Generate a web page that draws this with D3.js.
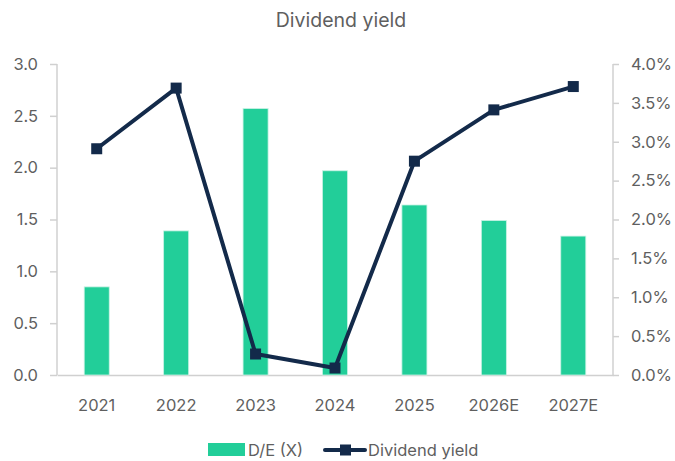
<!DOCTYPE html>
<html>
<head>
<meta charset="utf-8">
<script src="https://cdn.jsdelivr.net/npm/d3@7"></script>
<style>
  body { margin: 0; background: #fff; }
  text { font-family: Inter, "Open Sans", sans-serif; fill: #5f5f5f; }
</style>
</head>
<body>
<script>
// chart data
var years = ["2021", "2022", "2023", "2024", "2025", "2026E", "2027E"];
var deValues = [0.85, 1.39, 2.57, 1.97, 1.64, 1.49, 1.34];
var yieldValues = [2.91, 3.69, 0.27, 0.09, 2.75, 3.41, 3.71];
var leftTicks = [0, 0.5, 1, 1.5, 2, 2.5, 3];
var rightTicks = [0, 0.5, 1, 1.5, 2, 2.5, 3, 3.5, 4];

var W = 675, H = 461;
var margin = {top: 64, right: 62, bottom: 86, left: 57};
var width = W - margin.left - margin.right;
var height = H - margin.top - margin.bottom;

var svg = d3.select("body").append("svg")
    .attr("width", W)
    .attr("height", H);

//Title
svg.append("text")
    .attr("x", 341)
    .attr("y", 27)
    .attr("text-anchor", "middle")
    .style("font-size", "19.5px")
    .text("Dividend yield");

var g = svg.append("g")
    .attr("transform", "translate(" + margin.left + "," + margin.top + ")");

var x = d3.scaleBand().domain(years).range([0, width]).paddingInner(0.685).paddingOuter(0.3425);
var yL = d3.scaleLinear().domain([0, 3]).range([height, 0]);
var yR = d3.scaleLinear().domain([0, 4]).range([height, 0]);

//Left axis
var leftAxis = g.append("g")
    .call(d3.axisLeft(yL).tickValues(leftTicks).tickSize(7).tickPadding(12)
      .tickFormat(d3.format(".1f")));
//Right axis
var rightAxis = g.append("g")
    .attr("transform", "translate(" + width + ",0)")
    .call(d3.axisRight(yR).tickValues(rightTicks).tickSize(6).tickPadding(12)
      .tickFormat(function(d) { return d3.format(".1f")(d) + "%"; }));
//Bottom axis
var bottomAxis = g.append("g")
    .attr("transform", "translate(0," + height + ")")
    .call(d3.axisBottom(x).tickSize(0).tickPadding(24));

[leftAxis, rightAxis, bottomAxis].forEach(function(a) {
  a.select(".domain").attr("stroke", "#d0d0d0").attr("stroke-width", 1.5);
  a.selectAll(".tick line").attr("stroke", "#d0d0d0").attr("stroke-width", 1.5);
  a.selectAll("text").style("font-size", "16.5px").attr("fill", "#5f5f5f")
    .style("font-family", "Inter, 'Open Sans', sans-serif");
});
leftAxis.select(".domain").attr("d", "M0,0V" + height);
rightAxis.select(".domain").attr("d", "M0,0V" + height);

//Bars
g.selectAll(".bar")
  .data(deValues).enter()
  .append("rect")
    .attr("class", "bar")
    .attr("x", function(d, i) { return x(years[i]); })
    .attr("width", x.bandwidth())
    .attr("y", function(d) { return yL(d); })
    .attr("height", function(d) { return height - yL(d); })
    .attr("fill", "#22ce99")
    .attr("stroke", "#c8f2e4")
    .attr("stroke-width", 0.8);

//Line
var line = d3.line()
    .x(function(d, i) { return x(years[i]) + x.bandwidth() / 2; })
    .y(function(d) { return yR(d); });

g.append("path")
    .datum(yieldValues)
    .attr("fill", "none")
    .attr("stroke", "#132a4a")
    .attr("stroke-width", 4)
    .attr("stroke-linejoin", "round")
    .attr("d", line);

g.selectAll(".marker")
  .data(yieldValues).enter()
  .append("rect")
    .attr("class", "marker")
    .attr("x", function(d, i) { return x(years[i]) + x.bandwidth() / 2 - 5.5; })
    .attr("y", function(d) { return yR(d) - 5.5; })
    .attr("width", 11)
    .attr("height", 11)
    .attr("fill", "#132a4a");

//Legend
var legend = svg.append("g").attr("transform", "translate(0,450)");
legend.append("rect")
    .attr("x", 208).attr("y", -7)
    .attr("width", 37).attr("height", 13)
    .attr("fill", "#22ce99");
legend.append("text")
    .attr("x", 248).attr("y", 6)
    .style("font-size", "16.5px")
    .text("D/E (X)");
legend.append("line")
    .attr("x1", 325).attr("x2", 365)
    .attr("y1", 0).attr("y2", 0)
    .attr("stroke", "#132a4a").attr("stroke-width", 4)
    .attr("stroke-linecap", "round");
legend.append("rect")
    .attr("x", 340).attr("y", -5.5)
    .attr("width", 11).attr("height", 11)
    .attr("fill", "#132a4a");
legend.append("text")
    .attr("x", 368).attr("y", 6)
    .style("font-size", "16.5px")
    .text("Dividend yield");
</script>
</body>
</html>
